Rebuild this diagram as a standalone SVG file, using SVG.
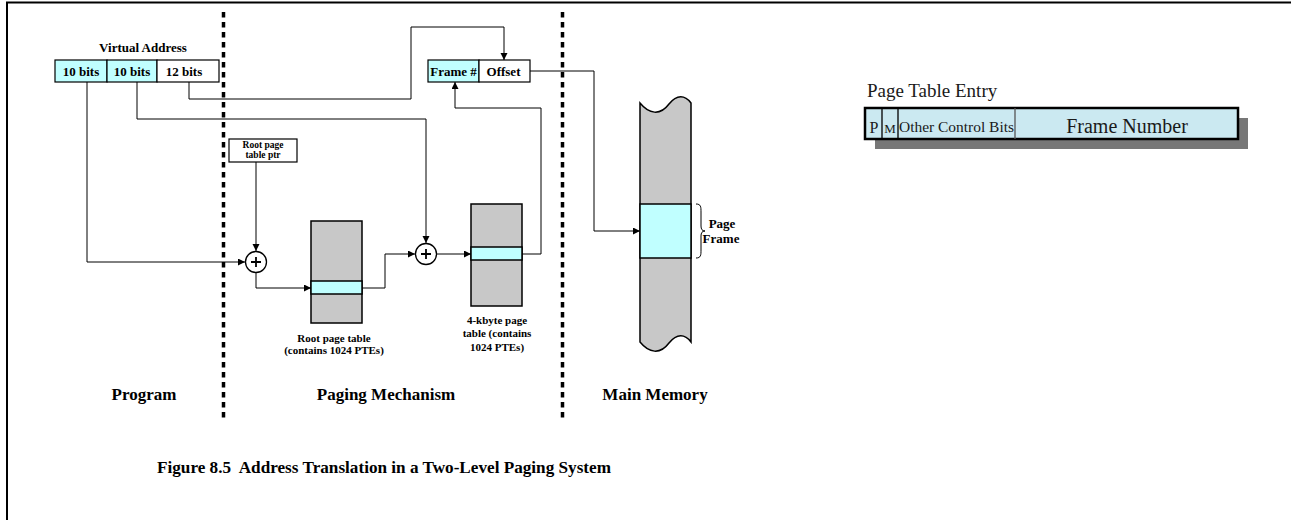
<svg xmlns="http://www.w3.org/2000/svg" width="1291" height="520" viewBox="0 0 1291 520">
<style>
.b{font-family:"Liberation Serif","Times New Roman",serif;font-weight:bold;fill:#000}
.r{font-family:"Liberation Serif","Times New Roman",serif;fill:#1a1a1a}
.ln{fill:none;stroke:#000;stroke-width:1}
.cy{fill:#c0ffff;stroke:#000;stroke-width:1.2}
.wh{fill:#fff;stroke:#000;stroke-width:1.2}
.gr{fill:#c8c8c8;stroke:#000;stroke-width:1.5}
.dash{stroke:#000;stroke-width:3.5;stroke-dasharray:5.5 4.5}
</style>
<defs>
<marker id="ah" markerWidth="8" markerHeight="8" refX="7" refY="3.5" orient="auto" markerUnits="userSpaceOnUse">
<path d="M0,0 L7,3.5 L0,7 z" fill="#000"/>
</marker>
</defs>
<rect x="0" y="0" width="1291" height="520" fill="#fff"/>
<path d="M7,520 V2.5 H1291" fill="none" stroke="#000" stroke-width="2"/>
<g id="dividers">
<line class="dash" x1="223.5" y1="12" x2="223.5" y2="419"/>
<line class="dash" x1="562.5" y1="12" x2="562.5" y2="419"/>
</g>
<g id="virtual-address">
<text class="b" x="143" y="52" font-size="13" text-anchor="middle">Virtual Address</text>
<rect class="cy" x="55" y="60" width="52" height="22"/>
<rect class="cy" x="107" y="60" width="50" height="22"/>
<rect class="wh" x="157" y="60" width="62" height="22"/>
<text class="b" x="81" y="76" font-size="13" text-anchor="middle">10 bits</text>
<text class="b" x="132" y="76" font-size="13" text-anchor="middle">10 bits</text>
<text class="b" x="184" y="76" font-size="13" text-anchor="middle">12 bits</text>
</g>
<g id="physical-address">
<rect class="cy" x="428" y="60" width="51" height="22"/>
<rect class="wh" x="479" y="60" width="51" height="22"/>
<text class="b" x="453.5" y="76" font-size="13" text-anchor="middle">Frame #</text>
<text class="b" x="503.5" y="76" font-size="13" text-anchor="middle">Offset</text>
</g>
<g id="root-ptr">
<rect class="wh" x="229" y="139" width="68" height="23"/>
<text class="b" x="263" y="148" font-size="9.5" text-anchor="middle">Root page</text>
<text class="b" x="263" y="158" font-size="9.5" text-anchor="middle">table ptr</text>
</g>
<g id="adder1">
<circle cx="256" cy="262" r="10.5" fill="#fff" stroke="#000" stroke-width="1.3"/>
<path d="M251,262 H261 M256,257 V267" stroke="#000" stroke-width="1.8"/>
</g>
<g id="adder2">
<circle cx="426" cy="254" r="10.5" fill="#fff" stroke="#000" stroke-width="1.3"/>
<path d="M421,254 H431 M426,249 V259" stroke="#000" stroke-width="1.8"/>
</g>
<g id="root-table">
<rect class="gr" x="311" y="221" width="51" height="102"/>
<rect x="311" y="281" width="51" height="13" fill="#c0ffff" stroke="#000" stroke-width="1.5"/>
<text class="b" x="334" y="342" font-size="11" text-anchor="middle">Root page table</text>
<text class="b" x="334" y="354" font-size="11" text-anchor="middle">(contains 1024 PTEs)</text>
</g>
<g id="page-table">
<rect class="gr" x="471" y="204" width="51" height="102"/>
<rect x="471" y="247" width="51" height="13" fill="#c0ffff" stroke="#000" stroke-width="1.5"/>
<text class="b" x="497" y="324" font-size="11" text-anchor="middle">4-kbyte page</text>
<text class="b" x="497" y="337" font-size="11" text-anchor="middle">table (contains</text>
<text class="b" x="497" y="351" font-size="11" text-anchor="middle">1024 PTEs)</text>
</g>
<g id="main-memory">
<path class="gr" d="M640,103 C649,114 660,116 669,104 C677,94 685,95 691,103 V342 C685,334 677,333 669,343 C660,355 649,353 640,342 Z"/>
<rect x="640" y="204" width="51" height="54" fill="#c0ffff" stroke="#000" stroke-width="1.5"/>
<path d="M696,204 C701,204 701,207 701,212 V226 C701,229 702,231 705,231 C702,231 701,233 701,236 V250 C701,255 701,258 696,258" fill="none" stroke="#000" stroke-width="1"/>
<text class="b" x="722" y="228" font-size="13" text-anchor="middle">Page</text>
<text class="b" x="721" y="243" font-size="13" text-anchor="middle">Frame</text>
</g>
<g id="connectors">
<path class="ln" d="M87,82 V262 H245" marker-end="url(#ah)"/>
<path class="ln" d="M137,82 V119 H426 V243" marker-end="url(#ah)"/>
<path class="ln" d="M189,82 V99 H411 V27 H504 V60" marker-end="url(#ah)"/>
<path class="ln" d="M256,162 V251" marker-end="url(#ah)"/>
<path class="ln" d="M256,272.5 V288 H311" marker-end="url(#ah)"/>
<path class="ln" d="M362,288 H385 V254 H415" marker-end="url(#ah)"/>
<path class="ln" d="M436.5,254 H471" marker-end="url(#ah)"/>
<path class="ln" d="M522,254 H541 V108 H455 V82" marker-end="url(#ah)"/>
<path class="ln" d="M530,71 H594 V231 H640" marker-end="url(#ah)"/>
</g>
<g id="section-labels">
<text class="b" x="144" y="400" font-size="17" text-anchor="middle">Program</text>
<text class="b" x="386" y="400" font-size="17" text-anchor="middle">Paging Mechanism</text>
<text class="b" x="655" y="400" font-size="17" text-anchor="middle">Main Memory</text>
</g>
<text class="b" x="157" y="473" font-size="17" xml:space="preserve" style="white-space:pre" textLength="454" lengthAdjust="spacingAndGlyphs">Figure 8.5  Address Translation in a Two-Level Paging System</text>
<g id="pte">
<text class="r" x="867" y="97" font-size="19">Page Table Entry</text>
<rect x="875" y="118" width="373" height="31" fill="#777"/>
<rect x="865" y="108" width="373" height="31" fill="#cbe9f1" stroke="#000" stroke-width="2.5"/>
<line x1="882" y1="108" x2="882" y2="139" stroke="#000" stroke-width="1.3"/>
<line x1="898" y1="108" x2="898" y2="139" stroke="#000" stroke-width="1.3"/>
<line x1="1015" y1="108" x2="1015" y2="139" stroke="#555" stroke-width="1.3"/>
<text class="r" x="874" y="133" font-size="16" text-anchor="middle">P</text>
<text class="r" x="890" y="133" font-size="13" text-anchor="middle">M</text>
<text class="r" x="899" y="132" font-size="14" textLength="115" lengthAdjust="spacingAndGlyphs">Other Control Bits</text>
<text class="r" x="1127" y="133" font-size="20" text-anchor="middle">Frame Number</text>
</g>
</svg>
